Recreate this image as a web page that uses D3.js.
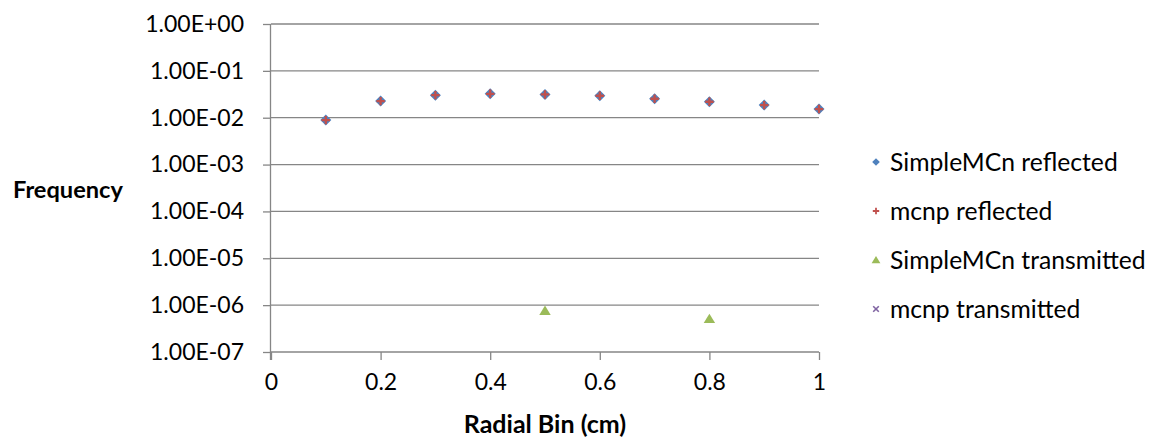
<!DOCTYPE html>
<html><head><meta charset="utf-8">
<script src="https://cdn.jsdelivr.net/npm/d3@7"></script>
<style>
html,body{margin:0;padding:0;background:#fff;}
svg{display:block;font-family:Lato,"Liberation Sans",sans-serif;}
</style></head>
<body><svg id="c" width="1149" height="441"></svg>
<script>
// Data
const radialBins = [0.1,0.2,0.3,0.4,0.5,0.6,0.7,0.8,0.9,1.0];
const simpleReflected = [8.9e-3,2.26e-2,3.03e-2,3.24e-2,3.14e-2,2.94e-2,2.54e-2,2.19e-2,1.86e-2,1.53e-2];
const mcnpReflected   = [8.9e-3,2.26e-2,3.03e-2,3.24e-2,3.14e-2,2.94e-2,2.54e-2,2.19e-2,1.86e-2,1.53e-2];
const simpleTransmitted = [0,0,0,0,7.6e-7,0,0,5.1e-7,0,0];
const mcnpTransmitted   = [0,0,0,0,0,0,0,0,0,0];
const xTicks = [0,0.2,0.4,0.6,0.8,1];
const yTicks = [1,1e-1,1e-2,1e-3,1e-4,1e-5,1e-6,1e-7];
const seriesNames = ["SimpleMCn reflected","mcnp reflected","SimpleMCn transmitted","mcnp transmitted"];
const xTitle = "Radial Bin (cm)";
const yTitle = "Frequency";

const svg = d3.select("#c");
const L=271, R=819, T=24, B=352;
const x = d3.scaleLinear().domain([0,1]).range([L,R]);
const y = d3.scaleLog().domain([1e-7,1]).range([B,T]);
const grid="#868686";
const fmt = v => { const e=Math.round(Math.log10(v)); return "1.00E"+(e>=0?"+":"-")+String(Math.abs(e)).padStart(2,"0"); };

// gridlines
svg.append("g").selectAll("line").data(yTicks).join("line")
  .attr("x1",L).attr("x2",R).attr("y1",d=>y(d)).attr("y2",d=>y(d))
  .attr("stroke",grid).attr("stroke-width",1.3);

// y axis
const ya = svg.append("g").attr("transform",`translate(${L},0)`)
  .call(d3.axisLeft(y).tickValues(yTicks).tickFormat(fmt).tickSize(8).tickPadding(19));
ya.select(".domain").attr("stroke",grid).attr("stroke-width",1.3).attr("d",`M-0.5,${T}V${B+8}`);
ya.selectAll(".tick line").attr("stroke",grid).attr("stroke-width",1.3);
ya.selectAll(".tick text").attr("font-size",23).attr("fill","#000").attr("font-family","Lato");

// x axis
const xa = svg.append("g").attr("transform",`translate(0,${B})`)
  .call(d3.axisBottom(x).tickValues(xTicks).tickFormat(d3.format("")).tickSize(8).tickPadding(14));
xa.select(".domain").remove();
xa.selectAll(".tick line").attr("stroke",grid).attr("stroke-width",1.3);
xa.selectAll(".tick text").attr("font-size",23).attr("fill","#000").attr("font-family","Lato");

// titles
svg.append("text").attr("x",(L+R)/2).attr("y",433).attr("text-anchor","middle")
  .attr("font-weight","bold").attr("font-size",25).text(xTitle);
svg.append("text").attr("x",13).attr("y",198).attr("font-weight","bold").attr("font-size",23.6).text(yTitle);

// markers
const colors=["#4F81BD","#C0504D","#9BBB59","#8064A2"];
function marker(g,type,s){
  if(type===0) g.append("path").attr("d",`M0,${-s}L${s},0L0,${s}L${-s},0Z`).attr("fill",colors[0]);
  else if(type===1) g.append("path").attr("d",`M${-s},0H${s}M0,${-s}V${s}`).attr("stroke",colors[1]).attr("stroke-width",s*0.55);
  else if(type===2) g.append("path").attr("d",`M0,${-s}L${s*1.1},${s*0.8}L${-s*1.1},${s*0.8}Z`).attr("fill",colors[2]);
  else g.append("path").attr("d",`M${-s},${-s}L${s},${s}M${-s},${s}L${s},${-s}`).attr("stroke",colors[3]).attr("stroke-width",1.6);
}
const allSeries=[simpleReflected,mcnpReflected,simpleTransmitted,mcnpTransmitted];
const sizes=[5.5,4.2,5.2,3.5];
allSeries.forEach((vals,i)=>{
  const pts = radialBins.map((b,k)=>({b,v:vals[k]})).filter(p=>p.v>0);
  svg.append("g").selectAll("g").data(pts).join("g")
    .attr("transform",p=>`translate(${x(p.b)},${y(p.v)})`)
    .each(function(){marker(d3.select(this),i,sizes[i]);});
});

// legend
const legY=[162,211,260,309];
const lsizes=[3.8,3.2,4,2.8];
seriesNames.forEach((n,i)=>{
  const g=svg.append("g").attr("transform",`translate(876,${legY[i]})`);
  marker(g,i,lsizes[i]);
  g.append("text").attr("x",14).attr("dy","0.35em").attr("font-size",24.7).attr("fill","#000").text(n);
});
</script></body></html>
